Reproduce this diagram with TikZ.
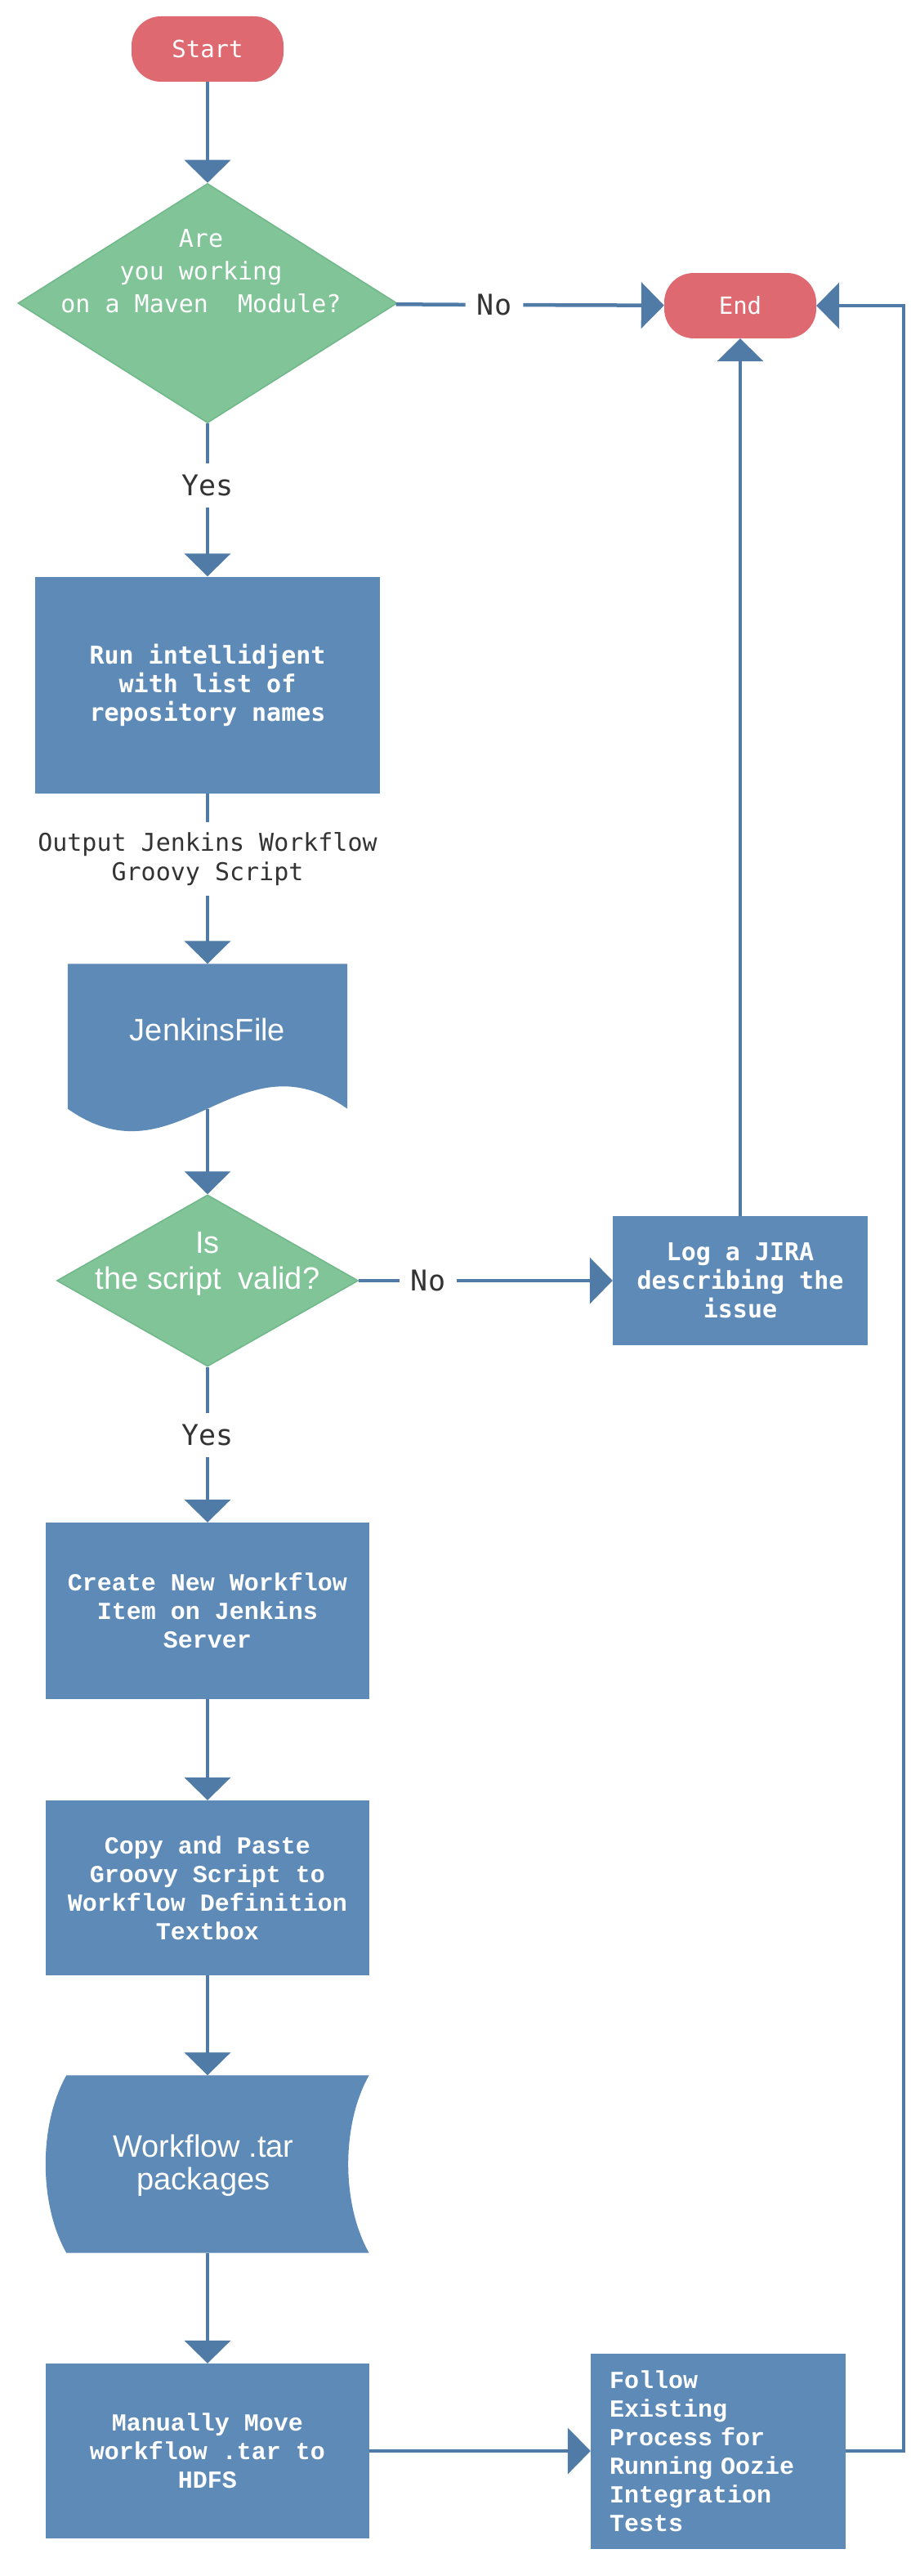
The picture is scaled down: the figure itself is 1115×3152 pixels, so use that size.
\documentclass[tikz,border=0pt]{standalone}
\usepackage{fontspec}
\setmainfont{Liberation Sans}
\newfontfamily\dvmono{DejaVu Sans Mono}
\newfontfamily\lbmono{Liberation Mono}
\usetikzlibrary{arrows.meta,shapes.geometric,calc}
\definecolor{flowred}{RGB}{222,105,113}
\definecolor{flowgreen}{RGB}{128,196,152}
\definecolor{greenedge}{RGB}{112,184,138}
\definecolor{flowblue}{RGB}{94,138,183}
\definecolor{linkblue}{RGB}{79,123,166}
\definecolor{labelgray}{RGB}{51,51,51}

\begin{document}
\begin{tikzpicture}[x=1pt,y=-1pt,
    terminal/.style={rectangle,rounded corners=36pt,fill=flowred,text=white,minimum width=186pt,minimum height=80pt,font=\dvmono\fontsize{29}{35}\selectfont},
    decision/.style={diamond,fill=flowgreen,draw=greenedge,line width=1.5pt,inner sep=0pt},
    process/.style={rectangle,fill=flowblue,text=white,align=center,inner sep=0pt},
    monobold/.style={font=\dvmono\bfseries\fontsize{30}{35}\selectfont},
    courbold/.style={font=\lbmono\bfseries\fontsize{30}{35}\selectfont},
    sanstext/.style={text=white,align=center,font=\fontsize{38}{44}\selectfont},
    answer/.style={text=labelgray,inner sep=14pt,font=\dvmono\fontsize{35}{40}\selectfont},
    flowline/.style={draw=linkblue,line width=4.5pt},
    flowarrow/.style={flowline,-{Triangle[length=28pt,width=56pt]}}]
        \useasboundingbox (0,0) rectangle (1115,3152); % page size
        \fill[white] (0,0) rectangle (1115,3152); % white sheet
        \node[terminal] (start) at (254,60) {Start};
        \node[decision,minimum width=464pt,minimum height=293pt] (maven) at (254,371) {}; % first question
        \node[text=white,align=center,font=\dvmono\fontsize{30}{40}\selectfont] (maventxt) at (246,332)
        {Are\\you working\\on a Maven\ \ Module?};
        \node[terminal] (end) at (906,374) {End};
        \node[answer] (no1) at (605,373) {No};
        \node[answer] (yes1) at (254,594) {Yes};
        \node[process,monobold,minimum width=422pt,minimum height=265pt] (run) at (254,838)
        {Run intellidjent\\with list of\\repository names};
        \node[text=labelgray,align=center,font=\dvmono\fontsize{30}{36}\selectfont,inner sep=12pt] (output) at (254,1051)
        {Output Jenkins Workflow\\Groovy Script};
        \node[minimum width=342pt,minimum height=177pt,inner sep=0pt] (jenk) at (254,1268) {}; % document shape
        \fill[flowblue] (jenk.north west) -- (jenk.north east) -- (jenk.south east)
        .. controls ($(jenk.south east)+(-135,-95)$) and ($(jenk.south west)+(135,95)$) .. (jenk.south west) -- cycle;
        \node[sanstext] (jenktxt) at (254,1260) {JenkinsFile};
        \node[decision,minimum width=369pt,minimum height=210pt] (valid) at (254,1567) {}; % second question
        \node[sanstext] (validtxt) at (254,1546) {Is\\the script\ \ valid?};
        \node[answer] (no2) at (524,1567) {No};
        \node[process,monobold,minimum width=312pt,minimum height=158pt] (jira) at (906,1567)
        {Log a JIRA\\describing the\\issue};
        \node[answer] (yes2) at (254,1756) {Yes};
        \node[process,courbold,minimum width=396pt,minimum height=216pt] (create) at (254,1971)
        {Create New Workflow\\Item on Jenkins\\Server};
        \node[process,courbold,minimum width=396pt,minimum height=214pt] (copy) at (254,2310)
        {Copy and Paste\\Groovy Script to\\Workflow Definition\\Textbox};
        \node[minimum width=395pt,minimum height=217pt,inner sep=0pt] (wtar) at (254,2648) {}; % stored data shape
        \fill[flowblue] ($(wtar.north west)+(25,0)$) -- (wtar.north east)
        .. controls ($(wtar.north east)+(-34,60)$) and ($(wtar.south east)+(-34,-60)$) .. (wtar.south east)
        -- ($(wtar.south west)+(25,0)$)
        .. controls ($(wtar.south west)+(-9,-60)$) and ($(wtar.north west)+(-9,60)$) .. ($(wtar.north west)+(25,0)$) -- cycle;
        \node[sanstext,font=\fontsize{38}{40}\selectfont] (wtartxt) at (249,2650) {Workflow .tar\\packages};
        \node[process,courbold,minimum width=396pt,minimum height=214pt] (manual) at (254,2999)
        {Manually Move\\workflow .tar to\\HDFS};
        \node[process,courbold,align=left,text width=266pt,minimum width=312pt,minimum height=239pt] (oozie) at (879,2999)
        {Follow\\Existing\\Process for\\Running Oozie\\Integration\\Tests};
        \coordinate (loopc) at (1106,374); % right hand return line
        \draw[flowarrow] (start) -- (maven);
        \draw[flowline] (maven) -- (no1);
        \draw[flowarrow] (no1) -- (end);
        \draw[flowline] (maven) -- (yes1);
        \draw[flowarrow] (yes1) -- (run);
        \draw[flowline] (run) -- (output);
        \draw[flowarrow] (output) -- (jenk);
        \draw[flowarrow] (jenk) -- (valid);
        \draw[flowline] (valid) -- (no2);
        \draw[flowarrow] (no2) -- (jira);
        \draw[flowarrow] (jira) -- (end);
        \draw[flowline] (valid) -- (yes2);
        \draw[flowarrow] (yes2) -- (create);
        \draw[flowarrow] (create) -- (copy);
        \draw[flowarrow] (copy) -- (wtar);
        \draw[flowarrow] (wtar) -- (manual);
        \draw[flowarrow] (manual) -- (oozie);
        \draw[flowarrow] (oozie.east) -| (loopc) -- (end.east);
    \end{tikzpicture}
\end{document}
